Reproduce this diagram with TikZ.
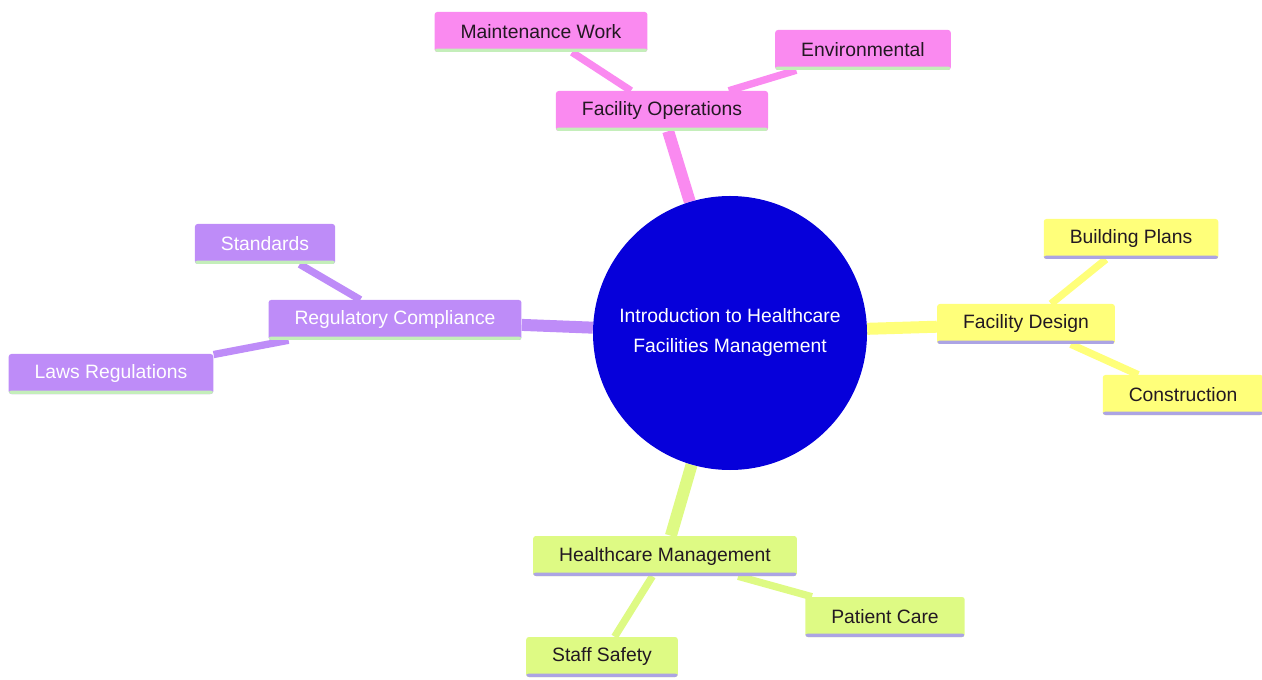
\documentclass[tikz,border=0pt]{standalone}
\usepackage{fontspec}
\setmainfont{Liberation Sans}
\usetikzlibrary{positioning,backgrounds}
\definecolor{opsPink}{RGB}{250,138,240}
\definecolor{regPurple}{RGB}{190,140,248}
\definecolor{designYellow}{RGB}{255,255,122}
\definecolor{mgmtGreen}{RGB}{222,250,132}
\definecolor{rootBlue}{RGB}{6,0,218}
\definecolor{rimGreen}{RGB}{196,238,186}
\definecolor{rimLilac}{RGB}{172,164,228}
\definecolor{darkText}{RGB}{34,24,34}
\tikzstyle{topic}=[rectangle,rounded corners=2pt,minimum height=30pt,inner xsep=19.5pt,
    font=\fontsize{14.5}{17}\selectfont]
\tikzstyle{rimGreenLine}=[path picture={\fill[rimGreen] ([yshift=2.6pt]path picture bounding box.south west) rectangle (path picture bounding box.south east);}]
\tikzstyle{rimLilacLine}=[path picture={\fill[rimLilac] ([yshift=2.6pt]path picture bounding box.south west) rectangle (path picture bounding box.south east);}]
\tikzstyle{ops}=[topic,fill=opsPink,text=darkText,rimGreenLine]
\tikzstyle{reg}=[topic,fill=regPurple,text=white,rimGreenLine]
\tikzstyle{design}=[topic,fill=designYellow,text=darkText,rimLilacLine]
\tikzstyle{mgmt}=[topic,fill=mgmtGreen,text=darkText,rimLilacLine]
\newcommand{\newTopic}[4]{\node[#3](#1) at #4 {#2};}
\newcommand{\newBranch}[3]{\draw[#3] (#1) -- (#2);}

\begin{document}
\begin{tikzpicture}[x=0.75pt,y=-0.75pt,
    trunk/.style={line width=9pt},
    twig/.style={line width=5.5pt}
    ]
    \useasboundingbox (0,0) rectangle (1262,680);
    % root
    \node[circle,fill=rootBlue,text=white,minimum size=205.5pt,inner sep=0pt,align=center,
      font=\fontsize{14.5}{22.5}\selectfont](root) at (730,333)
      {Introduction to Healthcare\\Facilities Management};
    % facility operations
    \newTopic{ops}{Facility Operations}{ops}{(662,111)}
    \newTopic{maint}{Maintenance Work}{ops}{(541,32)}
    \newTopic{env}{Environmental}{ops}{(863,50)}
    % regulatory compliance
    \newTopic{reg}{Regulatory Compliance}{reg}{(395,320)}
    \newTopic{std}{Standards}{reg}{(265,244)}
    \newTopic{laws}{Laws Regulations}{reg}{(111,374)}
    % facility design
    \newTopic{design}{Facility Design}{design}{(1026,324)}
    \newTopic{plans}{Building Plans}{design}{(1131,239)}
    \newTopic{constr}{Construction}{design}{(1183,395)}
    % healthcare management
    \newTopic{mgmt}{Healthcare Management}{mgmt}{(665,556)}
    \newTopic{care}{Patient Care}{mgmt}{(885,617)}
    \newTopic{staff}{Staff Safety}{mgmt}{(602,657)}
    \begin{scope}[on background layer]
    \newBranch{root}{ops}{trunk,opsPink}
    \newBranch{ops}{maint}{twig,opsPink}
    \newBranch{ops}{env}{twig,opsPink}
    \newBranch{root}{reg}{trunk,regPurple}
    \newBranch{reg}{std}{twig,regPurple}
    \newBranch{reg}{laws}{twig,regPurple}
    \newBranch{root}{design}{trunk,designYellow}
    \newBranch{design}{plans}{twig,designYellow}
    \newBranch{design}{constr}{twig,designYellow}
    \newBranch{root}{mgmt}{trunk,mgmtGreen}
    \newBranch{mgmt}{care}{twig,mgmtGreen}
    \newBranch{mgmt}{staff}{twig,mgmtGreen}
    \end{scope}
  \end{tikzpicture}
\end{document}
